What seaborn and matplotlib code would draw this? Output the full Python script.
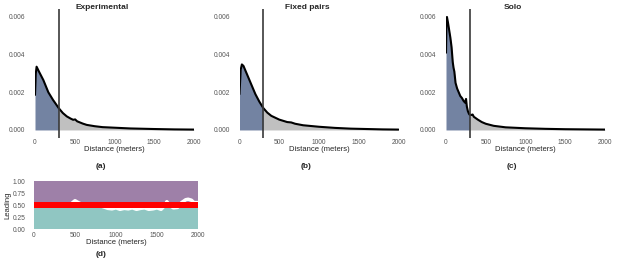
import numpy as np
import pandas as pd
import seaborn as sns
import matplotlib.pyplot as plt

# --- data ---
exp_dist = [0, 10, 20, 50, 105, 168, 226, 300, 350, 400, 450, 480, 505, 530,
            600, 650, 750, 850, 1000, 1200, 1500, 1750, 2000]
exp_dens = [0.00186, 0.0030, 0.00336, 0.0031, 0.00265, 0.0020, 0.0016, 0.00115,
            0.0009, 0.00072, 0.0006, 0.00054, 0.00056, 0.00046, 0.00034, 0.00027,
            0.0002, 0.00015, 0.00012, 0.00008, 0.00005, 0.00003, 0.00002]

fix_dist = [0, 15, 30, 50, 100, 150, 200, 250, 300, 350, 400, 500, 600, 650, 700,
            800, 900, 1000, 1200, 1400, 1600, 1800, 2000]
fix_dens = [0.0019, 0.0032, 0.00348, 0.0034, 0.0029, 0.0024, 0.0019, 0.0015, 0.00116,
            0.00092, 0.00075, 0.00055, 0.00042, 0.00040, 0.00033, 0.00025, 0.00021,
            0.00017, 0.00011, 0.00007, 0.00005, 0.00003, 0.00002]

solo_dist = [0, 5, 12, 25, 40, 55, 70, 85, 95, 105, 120, 140, 160, 180, 200, 220, 240,
             252, 262, 275, 290, 300, 320, 335, 350, 400, 450, 500, 600, 750, 1000,
             1250, 1500, 1750, 2000]
solo_dens = [0.0041, 0.0055, 0.0060, 0.0057, 0.0053, 0.0049, 0.0044, 0.0036, 0.0033,
             0.0031, 0.0025, 0.0022, 0.0020, 0.0018, 0.0017, 0.00155, 0.00145, 0.00165,
             0.00125, 0.0010, 0.00085, 0.0008, 0.0008, 0.00082, 0.0007, 0.00055,
             0.00042, 0.00033, 0.00022, 0.00014, 0.00009, 0.00006, 0.00004, 0.00003,
             0.00002]

lead_dist = [0, 200, 450, 500, 540, 600, 800, 900, 950, 1000, 1050, 1100, 1150, 1200,
             1250, 1300, 1350, 1400, 1450, 1500, 1550, 1600, 1620, 1650, 1700, 1750,
             1800, 1850, 1880, 1920, 1950, 2000]
lead_prop = [0.50, 0.50, 0.52, 0.59, 0.55, 0.50, 0.49, 0.43, 0.42, 0.44, 0.41, 0.43,
             0.42, 0.44, 0.41, 0.43, 0.44, 0.41, 0.42, 0.44, 0.41, 0.50, 0.57, 0.50,
             0.44, 0.45, 0.55, 0.61, 0.62, 0.60, 0.55, 0.55]

panels = [("Experimental", "(a)", exp_dist, exp_dens),
          ("Fixed pairs", "(b)", fix_dist, fix_dens),
          ("Solo", "(c)", solo_dist, solo_dens)]
cutoff = 300

sns.set_theme(style="white")
plt.rcParams['font.family'] = ['Liberation Sans', 'DejaVu Sans']

W, H = 617, 262
fig = plt.figure(figsize=(W / 100, H / 100), dpi=100)

lefts = [35, 239.5, 446]
label_x = [102, 307, 513]
blue = "#7383a2"
grey = "#c0c0c0"

for (title, tag, dist, dens), left, lx in zip(panels, lefts, label_x):
    ax = fig.add_axes([left / W, 1 - 137.5 / H, 159 / W, 129 / H])
    df = pd.DataFrame({"dist": dist, "dens": dens})
    x = df["dist"].to_numpy()
    y = df["dens"].to_numpy()
    ax.fill_between(x, y, where=x <= cutoff, color=blue, lw=0)
    ax.fill_between(x, y, where=x >= cutoff, color=grey, lw=0)
    sns.lineplot(data=df, x="dist", y="dens", ax=ax, color="black", lw=1.5)
    ax.axvline(cutoff, color="#3a3a3a", lw=1.2)
    ax.set_xlim(0, 2000)
    ax.set_ylim(-0.0004, 0.00645)
    ax.set_xticks([0, 500, 1000, 1500, 2000])
    ax.set_yticks([0, 0.002, 0.004, 0.006])
    ax.set_yticklabels(["0.000", "0.002", "0.004", "0.006"])
    ax.tick_params(labelsize=4.8, labelcolor="#555555", length=0)
    ax.tick_params(axis="y", pad=7)
    ax.tick_params(axis="x", pad=1)
    ax.set_xlabel("Distance (meters)", fontsize=5.5, labelpad=0)
    ax.set_ylabel("")
    sns.despine(ax=ax, left=True, bottom=True)
    fig.text(lx / W, 1 - 7.5 / H, title, ha="center", va="center",
             fontsize=6, fontweight="bold")
    fig.text((lx - 1) / W, 1 - 167 / H, tag, ha="center", va="center",
             fontsize=6, fontweight="bold")

# (d) leading panel
axd = fig.add_axes([34 / W, 1 - 229 / H, 164 / W, 48 / H])
axd.axhspan(0.5, 1.0, color="#9e80a8", lw=0, zorder=0)
axd.axhspan(0.0, 0.5, color="#90c6c2", lw=0, zorder=0)
lead = pd.DataFrame({"dist": lead_dist, "prop": lead_prop})
sns.lineplot(data=lead, x="dist", y="prop", ax=axd, color="white", lw=2.5, zorder=2)
axd.axhspan(0.445, 0.555, color="#ff0000", lw=0, zorder=3)
axd.set_xlim(0, 2000)
axd.set_ylim(0, 1)
axd.set_xticks([0, 500, 1000, 1500, 2000])
axd.set_yticks([0, 0.25, 0.5, 0.75, 1.0])
axd.set_yticklabels(["0.00", "0.25", "0.50", "0.75", "1.00"])
axd.tick_params(labelsize=4.8, labelcolor="#555555", length=0)
axd.tick_params(axis="y", pad=6)
axd.tick_params(axis="x", pad=2)
axd.set_xlabel("Distance (meters)", fontsize=5.5, labelpad=0)
axd.set_ylabel("Leading", fontsize=5.5, labelpad=1)
sns.despine(ax=axd, left=True, bottom=True)
fig.text(101 / W, 1 - 255 / H, "(d)", ha="center", va="center",
         fontsize=6, fontweight="bold")

fig.savefig("out.png", dpi=100)
